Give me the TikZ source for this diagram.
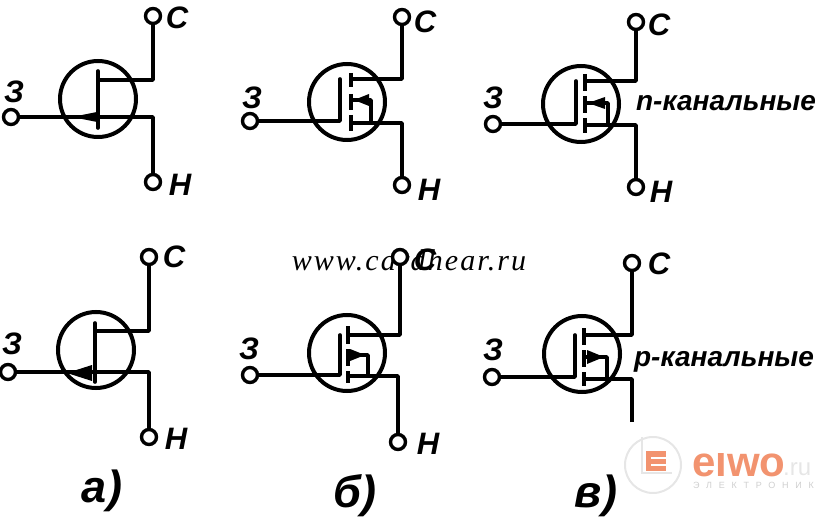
\documentclass[tikz,border=0pt]{standalone}
\usepackage{fontspec}
\setmainfont{Liberation Sans}
\newfontfamily\webfont{Liberation Serif}
\usetikzlibrary{positioning}
\definecolor{logoorange}{HTML}{F2936F}
\definecolor{logogray}{HTML}{E6E6E6}
\definecolor{logotext}{HTML}{CFCFCF}
\tikzset{
wire/.style={line width=3.6pt,line cap=round,line join=round},
chan/.style={line width=4.4pt},
term/.style={circle,draw,line width=3.4pt,fill=white,inner sep=0pt,minimum size=15pt},
ring/.style={circle,draw,line width=4pt,inner sep=0pt,minimum size=76pt},
lab/.style={inner sep=0pt,xshift=1pt,yshift=-2pt,font=\fontsize{31}{31}\selectfont\bfseries\itshape},
note/.style={inner sep=0pt,font=\fontsize{28}{28}\selectfont\bfseries\itshape},
part/.style={inner sep=0pt,yshift=-2pt,font=\fontsize{45}{45}\selectfont\bfseries\itshape}
}

\begin{document}
\begin{tikzpicture}[x=1pt,y=-1pt]
\useasboundingbox (0,0) rectangle (818,518);
% overprinted site address
\node[inner sep=0pt,font=\fontsize{30}{30}\selectfont\webfont\itshape\addfontfeature{LetterSpace=7}] (site) at (409,260) {www.cardhear.ru};
% top row, a
\node[term] (a1z) at (11,117) {};
\node[term] (a1c) at (153,16) {};
\node[term] (a1n) at (153,182) {};
\node[ring] (a1o) at (98,99) {};
\coordinate (a1d) at (98,80);
\coordinate (a1s) at (153,117);
\draw[wire] (a1z) -- (a1s) -- (a1n);
\draw[wire] (a1c) -- (a1c |- a1d) -- (a1d);
\draw[wire] (98,71) -- (98,128);
\fill (72,117) -- (97,112) -- (97,122) -- cycle;
\node[lab] (a1zl) at (13,90) {З};
\node[lab] (a1cl) at (176,16) {С};
\node[lab] (a1nl) at (179,183) {Н};
% top row, b
\node[term] (b1z) at (250,121) {};
\node[term] (b1c) at (402,17) {};
\node[term] (b1n) at (402,185) {};
\node[ring] (b1o) at (347,102) {};
\coordinate (b1g) at (340,121);
\coordinate (b1d) at (351,79);
\coordinate (b1s) at (351,123);
\coordinate (b1b) at (351,100);
\draw[wire] (b1z) -- (b1g) -- (b1g |- b1d);
\draw[wire] (b1c) -- (b1c |- b1d) -- (b1d);
\draw[wire] (b1n) -- (b1n |- b1s) -- (b1s);
\draw[wire] (b1b) -- (371,100) -- (371,123);
\draw[chan] (351,73) -- (351,87);
\draw[chan] (351,94) -- (351,110);
\draw[chan] (351,115) -- (351,131);
\fill (354,100) -- (369,94) -- (369,106) -- cycle;
\node[lab] (b1zl) at (251,96) {З};
\node[lab] (b1cl) at (424,20) {С};
\node[lab] (b1nl) at (428,188) {Н};
% top row, c
\node[term] (c1z) at (493,124) {};
\node[term] (c1c) at (636,22) {};
\node[term] (c1n) at (636,187) {};
\node[ring] (c1o) at (581,104) {};
\coordinate (c1g) at (576,124);
\coordinate (c1d) at (585,81);
\coordinate (c1s) at (585,125);
\coordinate (c1b) at (585,103);
\draw[wire] (c1z) -- (c1g) -- (c1g |- c1d);
\draw[wire] (c1c) -- (c1c |- c1d) -- (c1d);
\draw[wire] (c1n) -- (c1n |- c1s) -- (c1s);
\draw[wire] (c1b) -- (608,103) -- (608,125);
\draw[chan] (585,74) -- (585,91);
\draw[chan] (585,96) -- (585,113);
\draw[chan] (585,118) -- (585,133);
\fill (588,103) -- (605,97) -- (605,109) -- cycle;
\node[lab] (c1zl) at (492,96) {З};
\node[lab] (c1cl) at (658,23) {С};
\node[lab] (c1nl) at (660,190) {Н};
\node[note] (c1t) at (726,103) {n-канальные};
% bottom row, a
\node[term] (a2z) at (8,372) {};
\node[term] (a2c) at (149,257) {};
\node[term] (a2n) at (149,437) {};
\node[ring] (a2o) at (96,350) {};
\coordinate (a2d) at (95,331);
\coordinate (a2s) at (149,372);
\draw[wire] (a2z) -- (a2s) -- (a2n);
\draw[wire] (a2c) -- (a2c |- a2d) -- (a2d);
\draw[wire] (95,323) -- (95,382);
\fill (67,373) -- (92,365) -- (92,381) -- cycle;
\node[lab] (a2zl) at (11,342) {З};
\node[lab] (a2cl) at (173,255) {С};
\node[lab] (a2nl) at (175,437) {Н};
% bottom row, b
\node[term] (b2z) at (250,375) {};
\node[term] (b2c) at (400,257) {};
\node[term] (b2n) at (398,442) {};
\node[ring] (b2o) at (347,353) {};
\coordinate (b2g) at (340,375);
\coordinate (b2d) at (348,335);
\coordinate (b2s) at (348,376);
\coordinate (b2b) at (348,355);
\draw[wire] (b2z) -- (b2g) -- (b2g |- b2d);
\draw[wire] (b2c) -- (b2c |- b2d) -- (b2d);
\draw[wire] (b2n) -- (b2n |- b2s) -- (b2s);
\draw[wire] (b2b) -- (368,355) -- (368,376);
\draw[chan] (348,326) -- (348,344);
\draw[chan] (348,349) -- (348,366);
\draw[chan] (348,371) -- (348,383);
\fill (365,355) -- (350,349) -- (350,361) -- cycle;
\node[lab] (b2zl) at (248,347) {З};
\node[lab] (b2cl) at (424,258) {С};
\node[lab] (b2nl) at (427,442) {Н};
% bottom row, c
\node[term] (c2z) at (492,377) {};
\node[term] (c2c) at (632,263) {};
\node[ring] (c2o) at (582,354) {};
\coordinate (c2g) at (575,377);
\coordinate (c2d) at (584,335);
\coordinate (c2s) at (584,379);
\coordinate (c2b) at (584,357);
\coordinate (c2e) at (632,422);
\draw[wire] (c2z) -- (c2g) -- (c2g |- c2d);
\draw[wire] (c2c) -- (c2c |- c2d) -- (c2d);
\draw[wire,line cap=butt] (c2e) -- (c2e |- c2s) -- (c2s);
\draw[wire] (c2b) -- (607,357) -- (607,379);
\draw[chan] (584,328) -- (584,345);
\draw[chan] (584,350) -- (584,367);
\draw[chan] (584,372) -- (584,386);
\fill (604,357) -- (587,350) -- (587,364) -- cycle;
\node[lab] (c2zl) at (492,348) {З};
\node[lab] (c2cl) at (658,262) {С};
\node[note] (c2t) at (724,362) {р-канальные};
% captions
\node[part] (capa) at (102,489) {а)};
\node[part] (capb) at (355,494) {б)};
\node[part] (capc) at (596,494) {в)};
% logo
\node[circle,draw=logogray,line width=2pt,inner sep=0pt,minimum size=56pt] (logoo) at (653,465) {};
\coordinate (logoa) at (642,437);
\coordinate (logob) at (642,473);
\coordinate (logod) at (672,473);
\draw[logogray,line width=1.5pt] (logoa) -- (logob) -- (logod);
\fill[logoorange] (646,451) rectangle (666,471);
\fill[white] (651,457) rectangle (667,459);
\fill[white] (651,464) rectangle (667,466);
\begin{scope}
\clip (685,453) rectangle (790,480);
\node[inner sep=0pt,anchor=base west,logoorange,font=\fontsize{42}{42}\selectfont\bfseries] (elwo) at (692,476) {elwo};
\end{scope}
\node[inner sep=0pt,anchor=base west,logogray,font=\fontsize{24}{24}\selectfont] (ru) at (783,475) {.ru};
\node[inner sep=0pt,anchor=base west,logotext,font=\fontsize{9}{9}\selectfont\addfontfeature{LetterSpace=75}] (elek) at (693,488) {ЭЛЕКТРОНИК};
\end{tikzpicture}
\end{document}
